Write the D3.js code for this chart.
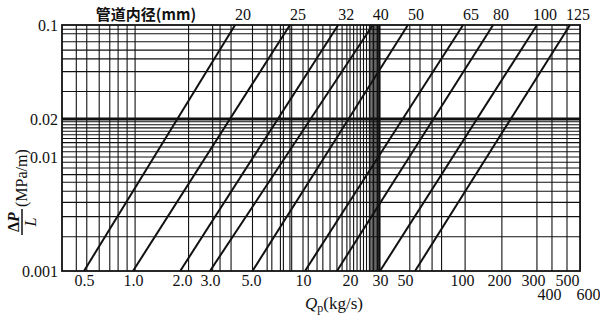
<!DOCTYPE html>
<html><head><meta charset="utf-8">
<script src="https://cdn.jsdelivr.net/npm/d3@7"></script>
<style>
html,body{margin:0;padding:0;background:#fff;}
text{font-family:"Liberation Serif","DejaVu Serif",serif;fill:#111;}
</style></head>
<body><svg id="c" width="600" height="325"></svg>
<script>
// ---- data ----
const pipeDiameters = [20, 25, 32, 40, 50, 65, 80, 100, 125];           // mm
const qAtBottom     = [0.5, 1.0, 1.95, 3.0, 5.1, 10.3, 16.5, 30, 56.5];  // kg/s at ΔP/L = 0.001
const qAtTop        = [4.1, 8.4, 16.8, 27.2, 51.8, 102, 179, 322, 513];  // kg/s at ΔP/L = 0.1
const xTicks      = [0.5, 1, 2, 3, 5, 10, 20, 30, 50, 100, 200, 300, 400, 500, 600];
const xTickLabels = ["0.5","1.0","2.0","3.0","5.0","10","20","30","50","100","200","300","400","500","600"];
const xLowerRow   = [400, 600];
const yTicks      = [0.1, 0.02, 0.01, 0.001];
const yTickLabels = ["0.1","0.02","0.01","0.001"];
const xGrid = [0.45,0.52,0.62,0.72,0.81,0.92,1.03,2.2,3.1,3.4,3.9,5.1,6.2,6.6,7.4,7.7,8.4,8.6,10,10.8,12.3,13.4,14.9,16.5,17.8,19.1,
  20,21,22,23,24,25,26,26.5,27,27.5,28,28.5,29,29.3,29.6,29.8,30,53,60,69.5,78,106,207,322,415,500];
const yGrid = [0.093,0.086,0.075,0.065,0.056,0.045,0.032,
  0.019,0.018,0.017,0.016,0.015,0.014,0.013,0.012,0.011,0.01,
  0.009,0.008,0.007,0.006,0.005,0.004,0.003,0.002];
const qMin = 0.37, qMax = 560, pMin = 0.001, pMax = 0.1;

// ---- scales (piecewise log, the nomograph is not uniform) ----
const x = d3.scaleLog()
  .domain([qMin,0.5,1,2,3,5,10,20,30,50,100,200,300,400,500,600])
  .range([62,84,133,182,210,251,303,350,380,405,462,499,533,549,567,588]);
const y = d3.scaleLog()
  .domain([0.001,0.01,0.02,0.1])
  .range([271,157,119,25]);

const svg = d3.select("#c");
const ink = "#111";

// grid
svg.append("g").selectAll("line").data(xGrid).join("line")
  .attr("x1", d => x(d)).attr("x2", d => x(d))
  .attr("y1", y(pMax)).attr("y2", y(pMin))
  .attr("stroke", ink).attr("stroke-width", 1.1);
svg.append("g").selectAll("line").data(yGrid).join("line")
  .attr("x1", x(qMin)).attr("x2", x(qMax))
  .attr("y1", d => y(d)).attr("y2", d => y(d))
  .attr("stroke", ink).attr("stroke-width", 1.1);
// heavy 0.02 line
svg.append("line").attr("x1", x(qMin)).attr("x2", x(qMax))
  .attr("y1", y(0.02)).attr("y2", y(0.02)).attr("stroke", ink).attr("stroke-width", 3);

// frame
svg.append("rect").attr("x", x(qMin)).attr("y", y(pMax))
  .attr("width", x(qMax) - x(qMin)).attr("height", y(pMin) - y(pMax))
  .attr("fill", "none").attr("stroke", ink).attr("stroke-width", 1.8);

// pipe lines
const line = d3.line().x(d => x(d[0])).y(d => y(d[1]));
pipeDiameters.forEach((dm, i) => {
  svg.append("path")
    .attr("d", line([[qAtBottom[i], pMin], [qAtTop[i], pMax]]))
    .attr("fill", "none").attr("stroke", ink).attr("stroke-width", 2);
  svg.append("text").attr("x", x(qAtTop[i]) + 8).attr("y", 20)
    .attr("text-anchor", "middle").attr("font-size", 16).text(dm);
});

// title over lines
svg.append("text").attr("x", 146).attr("y", 20).attr("text-anchor", "middle")
  .style("font-family", "'Noto Sans CJK SC'").attr("font-weight", "bold")
  .attr("font-size", 15).text("管道内径(mm)");

// x axis labels
const xa = svg.append("g").attr("transform", `translate(0,${y(pMin)})`)
  .call(d3.axisBottom(x).tickValues(xTicks).tickSize(0).tickPadding(4)
    .tickFormat((d, i) => xTickLabels[i]));
xa.select(".domain").remove();
xa.selectAll("text").attr("font-size", 16).attr("font-family", null).attr("fill", ink)
  .attr("dy", d => xLowerRow.includes(d) ? "1.55em" : "0.71em");

// y axis labels
const ya = svg.append("g").attr("transform", `translate(${x(qMin)},0)`)
  .call(d3.axisLeft(y).tickValues(yTicks).tickSize(0).tickPadding(4)
    .tickFormat((d, i) => yTickLabels[i]));
ya.select(".domain").remove();
ya.selectAll("text").attr("font-size", 16).attr("font-family", null).attr("fill", ink);

// x title
const xt = svg.append("text").attr("x", 305).attr("y", 309).attr("font-size", 17);
xt.append("tspan").attr("font-style", "italic").text("Q");
xt.append("tspan").attr("font-size", 12).attr("dy", 3).text("p");
xt.append("tspan").attr("dy", -3).text("(kg/s)");

// y title (rotated fraction)
const yt = svg.append("g").attr("transform", "translate(22,222) rotate(-90)");
const num = yt.append("text").attr("x", 0).attr("y", -3).attr("text-anchor", "middle")
  .attr("font-size", 16).attr("font-weight", "bold");
num.append("tspan").text("Δ");
num.append("tspan").attr("font-style", "italic").text("P");
yt.append("line").attr("x1", -13).attr("x2", 13).attr("y1", 0).attr("y2", 0)
  .attr("stroke", ink).attr("stroke-width", 1.5);
yt.append("text").attr("x", 0).attr("y", 14).attr("text-anchor", "middle")
  .attr("font-size", 16).attr("font-style", "italic").text("L");
yt.append("text").attr("x", 15).attr("y", 5).attr("font-size", 16).text("(MPa/m)");
</script></body></html>
